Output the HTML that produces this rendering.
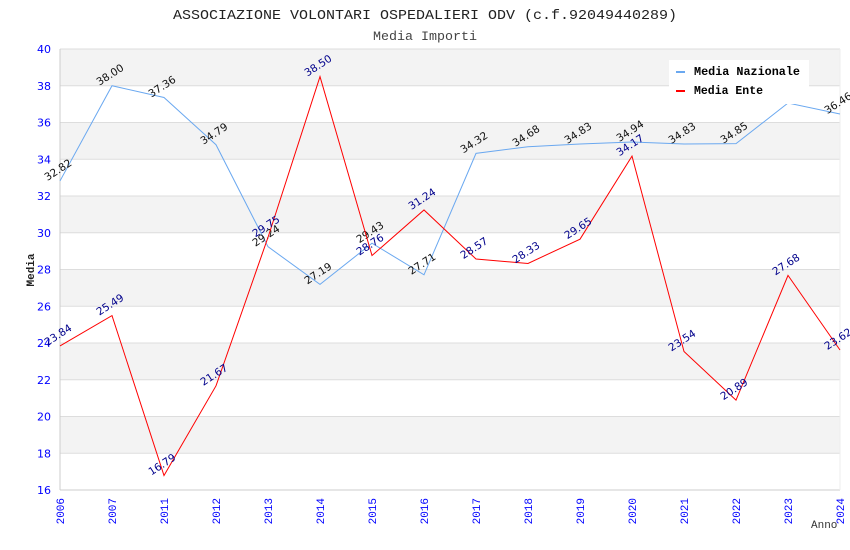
<!DOCTYPE html>
<html><head><meta charset="utf-8"><style>
body{margin:0;background:#fff}
svg{display:block;font-family:"DejaVu Sans","Liberation Sans",sans-serif}
.mono{font-family:"Liberation Mono","DejaVu Sans Mono",monospace}
</style></head><body>
<svg id="c" width="850" height="550"></svg>
<script>
const categories=["2006","2007","2011","2012","2013","2014","2015","2016","2017","2018","2019","2020","2021","2022","2023","2024"];
const nazionale=[32.82,38.00,37.36,34.79,29.24,27.19,29.43,27.71,34.32,34.68,34.83,34.94,34.83,34.85,37.06,36.46];
const nazLabels=["32.82","38.00","37.36","34.79","29.24","27.19","29.43","27.71","34.32","34.68","34.83","34.94","34.83","34.85","","36.46"];
const ente=[23.84,25.49,16.79,21.67,29.75,38.50,28.76,31.24,28.57,28.33,29.65,34.17,23.54,20.89,27.68,23.62];
const yTicks=[16,18,20,22,24,26,28,30,32,34,36,38,40];
const NS="http://www.w3.org/2000/svg";
const svg=document.getElementById('c');
const L=60,R=840,T=49,B=490,yMin=16,yMax=40;
function xs(i){return L+i*(R-L)/(categories.length-1);}
function ys(v){return B-(v-yMin)*(B-T)/(yMax-yMin);}
function el(tag,a,p){const e=document.createElementNS(NS,tag);for(const k in a)e.setAttribute(k,a[k]);(p||svg).appendChild(e);return e;}
function txt(s,a,p){const e=el('text',a,p);e.textContent=s;return e;}
const t=txt("ASSOCIAZIONE VOLONTARI OSPEDALIERI ODV (c.f.92049440289)",{x:173,y:19,'font-size':14,fill:'#222',class:'mono',textLength:504,lengthAdjust:'spacingAndGlyphs'});

const st=txt("Media Importi",{x:373,y:40,'font-size':12.5,fill:'#444',class:'mono',textLength:104,lengthAdjust:'spacingAndGlyphs'});

for(let k=0;k<yTicks.length-1;k++){
  if(k%2===1){const r=el('rect',{x:L,y:ys(yTicks[k+1]),width:R-L,height:ys(yTicks[k])-ys(yTicks[k+1]),fill:'#f3f3f3'});
  }
}
yTicks.forEach(v=>{
  const g=el('line',{x1:L,x2:R,y1:ys(v),y2:ys(v),stroke:'#ddd'});
  
  const l=txt(String(v),{x:L-9,y:ys(v)+4,'text-anchor':'end','font-size':11,fill:'#00f'});
  
});
el('line',{x1:L,x2:L,y1:T,y2:B,stroke:'#ccc'});
el('line',{x1:L,x2:R,y1:B,y2:B,stroke:'#ccc'});
el('line',{x1:R,x2:R,y1:T,y2:B,stroke:'#eee'});
categories.forEach((c,i)=>{
  const l=txt(c,{x:0,y:0,'text-anchor':'end','font-size':11,fill:'#00f',class:'mono',transform:`translate(${xs(i)+4},${B+8}) rotate(-90)`});
  
});
const yt=txt("Media",{x:0,y:0,'text-anchor':'middle','font-size':11,'font-weight':'bold',fill:'#222',class:'mono',transform:'translate(34,270) rotate(-90)'});

const xt=txt("Anno",{x:811,y:528,'font-size':11,fill:'#333',class:'mono'});

function series(vals,labels,color,lc,name){
  const p=el('polyline',{points:vals.map((v,i)=>xs(i)+','+ys(v)).join(' '),fill:'none',stroke:color,'stroke-width':1});
  
  vals.forEach((v,i)=>{
    if(!labels[i])return;
    const l=txt(labels[i],{x:0,y:0,'text-anchor':'middle','font-size':10.5,fill:lc,transform:`translate(${xs(i)},${ys(v)-8}) rotate(-33)`});
    
  });
}
series(nazionale,nazLabels,'#6aa8f0','#111','nazionale');
series(ente,ente.map(v=>v.toFixed(2)),'#f00','#00008b','ente');
const lg=el('g',{});

el('rect',{x:669,y:60,width:140,height:44,fill:'#fff'},lg);
el('rect',{x:676,y:71,width:9,height:2,fill:'#6aa8f0'},lg);
const a=txt("Media Nazionale",{x:694,y:75,'font-size':11.5,'font-weight':'bold',fill:'#000',class:'mono',textLength:106,lengthAdjust:'spacingAndGlyphs'},lg);

el('rect',{x:676,y:90,width:9,height:2,fill:'#f00'},lg);
const b=txt("Media Ente",{x:694,y:94,'font-size':11.5,'font-weight':'bold',fill:'#000',class:'mono'},lg);

</script>
</body></html>
